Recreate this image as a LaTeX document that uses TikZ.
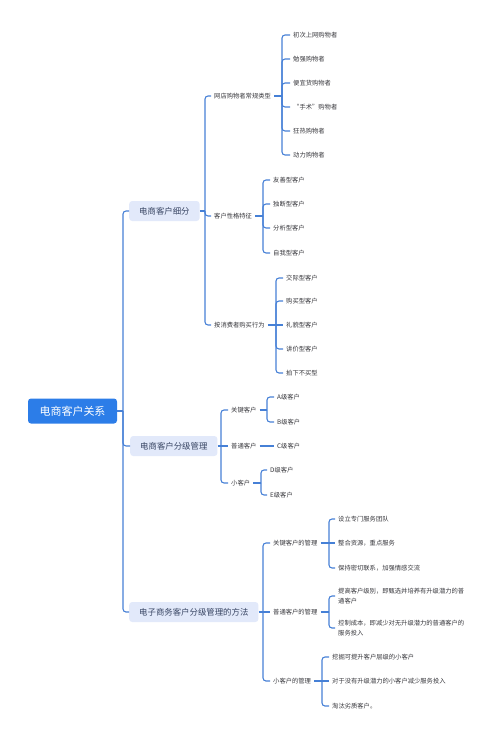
\documentclass[tikz,border=0pt]{standalone}
\usepackage{fontspec}
\setmainfont{Noto Sans CJK SC}
\definecolor{rootc}{RGB}{44,125,232}
\definecolor{linec}{RGB}{70,128,214}
\definecolor{l1c}{RGB}{226,233,250}
\definecolor{l1t}{RGB}{55,68,98}
\definecolor{txtc}{RGB}{55,55,60}
\tikzset{
 conn/.style={draw=linec, line width=1.1pt, rounded corners=3pt},
 rootbox/.style={fill=rootc, text=white, rounded corners=3pt, font=\fontsize{11}{13}\selectfont, minimum width=89pt, minimum height=25pt, inner sep=0pt},
 l1box/.style={fill=l1c, text=l1t, rounded corners=3pt, font=\fontsize{8.4}{10}\selectfont, minimum height=20pt, inner xsep=10pt, inner ysep=0pt, anchor=west},
 txt/.style={text=txtc, font=\fontsize{6.3}{9.5}\selectfont, inner xsep=3pt, inner ysep=1pt, anchor=west, align=left},
}
\begin{document}
\begin{tikzpicture}[x=1pt,y=-1pt]
\useasboundingbox (0,0) rectangle (500,740);
% root and level 1
\node[rootbox] (root) at (72.5,411) {电商客户关系};
\node[l1box] (a) at (129,211) {电商客户细分};
\node[l1box] (b) at (130,446) {电商客户分级管理};
\node[l1box] (c) at (129,612) {电子商务客户分级管理的方法};
\coordinate (t0) at (123,0);
\draw[conn] (root.east) -- (root.east -| t0);
\foreach \n in {a,b,c} \draw[conn] (root.east -| t0) |- (\n.west);

% level 2 under a
\node[txt] (a1) at (211,96) {网店购物者常规类型};
\node[txt] (a2) at (211,216) {客户性格特征};
\node[txt] (a3) at (211,325) {按消费者购买行为};
\coordinate (va) at (205,0);
\draw[conn] (a.east) -- (a.east -| va);
\foreach \n in {a1,a2,a3} \draw[conn] (a.east -| va) |- (\n.west);

% leaves under a1
\node[txt] (a11) at (290,35) {初次上网购物者};
\node[txt] (a12) at (290,59) {勉强购物者};
\node[txt] (a13) at (290,83) {便宜货购物者};
\node[txt] (a14) at (290,107) {“手术”购物者};
\node[txt] (a15) at (290,131) {狂热购物者};
\node[txt] (a16) at (290,155) {动力购物者};
\coordinate (va1) at (282,0);
\draw[conn] (a1.east) -- (a1.east -| va1);
\foreach \n in {a11,a12,a13,a14,a15,a16} \draw[conn] (a1.east -| va1) |- (\n.west);

% leaves under a2
\node[txt] (a21) at (270,180) {友善型客户};
\node[txt] (a22) at (270,204) {独断型客户};
\node[txt] (a23) at (270,228) {分析型客户};
\node[txt] (a24) at (270,253) {自我型客户};
\coordinate (va2) at (263,0);
\draw[conn] (a2.east) -- (a2.east -| va2);
\foreach \n in {a21,a22,a23,a24} \draw[conn] (a2.east -| va2) |- (\n.west);

% leaves under a3
\node[txt] (a31) at (283,278) {交际型客户};
\node[txt] (a32) at (283,301) {购买型客户};
\node[txt] (a33) at (283,325) {礼貌型客户};
\node[txt] (a34) at (283,349) {讲价型客户};
\node[txt] (a35) at (283,373) {拍下不买型};
\coordinate (va3) at (276,0);
\draw[conn] (a3.east) -- (a3.east -| va3);
\foreach \n in {a31,a32,a34,a35} \draw[conn] (a3.east -| va3) |- (\n.west);
\draw[conn] (a3.east -| va3) -- (a33.west);

% level 2 under b
\node[txt] (b1) at (228,410) {关键客户};
\node[txt] (b2) at (228,446) {普通客户};
\node[txt] (b3) at (228,483) {小客户};
\coordinate (vb) at (221,0);
\draw[conn] (b.east) -- (b.east -| vb);
\foreach \n in {b1,b3} \draw[conn] (b.east -| vb) |- (\n.west);
\draw[conn] (b.east -| vb) -- (b2.west);

\node[txt] (b11) at (274,397) {A级客户};
\node[txt] (b12) at (274,422) {B级客户};
\coordinate (vb1) at (267,0);
\draw[conn] (b1.east) -- (b1.east -| vb1);
\foreach \n in {b11,b12} \draw[conn] (b1.east -| vb1) |- (\n.west);

\node[txt] (b21) at (274,446) {C级客户};
\draw[conn] (b2.east) -- (b21.west);

\node[txt] (b31) at (267,470) {D级客户};
\node[txt] (b32) at (267,495) {E级客户};
\coordinate (vb3) at (261,0);
\draw[conn] (b3.east) -- (b3.east -| vb3);
\foreach \n in {b31,b32} \draw[conn] (b3.east -| vb3) |- (\n.west);

% level 2 under c
\node[txt] (c1) at (270,543) {关键客户的管理};
\node[txt] (c2) at (270,612) {普通客户的管理};
\node[txt] (c3) at (270,681) {小客户的管理};
\coordinate (vc) at (263,0);
\draw[conn] (c.east) -- (c.east -| vc);
\foreach \n in {c1,c3} \draw[conn] (c.east -| vc) |- (\n.west);
\draw[conn] (c.east -| vc) -- (c2.west);

\node[txt] (c11) at (335,519) {设立专门服务团队};
\node[txt] (c12) at (335,543) {整合资源，重点服务};
\node[txt] (c13) at (335,568) {保持密切联系，加强情感交流};
\coordinate (vc1) at (329,0);
\draw[conn] (c1.east) -- (c1.east -| vc1);
\foreach \n in {c11,c13} \draw[conn] (c1.east -| vc1) |- (\n.west);
\draw[conn] (c1.east -| vc1) -- (c12.west);

\node[txt] (c21) at (335,596) {提高客户级别，即甄选并培养有升级潜力的普\\通客户};
\node[txt] (c22) at (335,628) {控制成本，即减少对无升级潜力的普通客户的\\服务投入};
\coordinate (vc2) at (329,0);
\draw[conn] (c2.east) -- (c2.east -| vc2);
\foreach \n in {c21,c22} \draw[conn] (c2.east -| vc2) |- (\n.west);

\node[txt] (c31) at (329,657) {挖掘可提升客户层级的小客户};
\node[txt] (c32) at (329,681) {对于没有升级潜力的小客户减少服务投入};
\node[txt] (c33) at (329,706) {淘汰劣质客户。};
\coordinate (vc3) at (322,0);
\draw[conn] (c3.east) -- (c3.east -| vc3);
\foreach \n in {c31,c33} \draw[conn] (c3.east -| vc3) |- (\n.west);
\draw[conn] (c3.east -| vc3) -- (c32.west);
\end{tikzpicture}
\end{document}
